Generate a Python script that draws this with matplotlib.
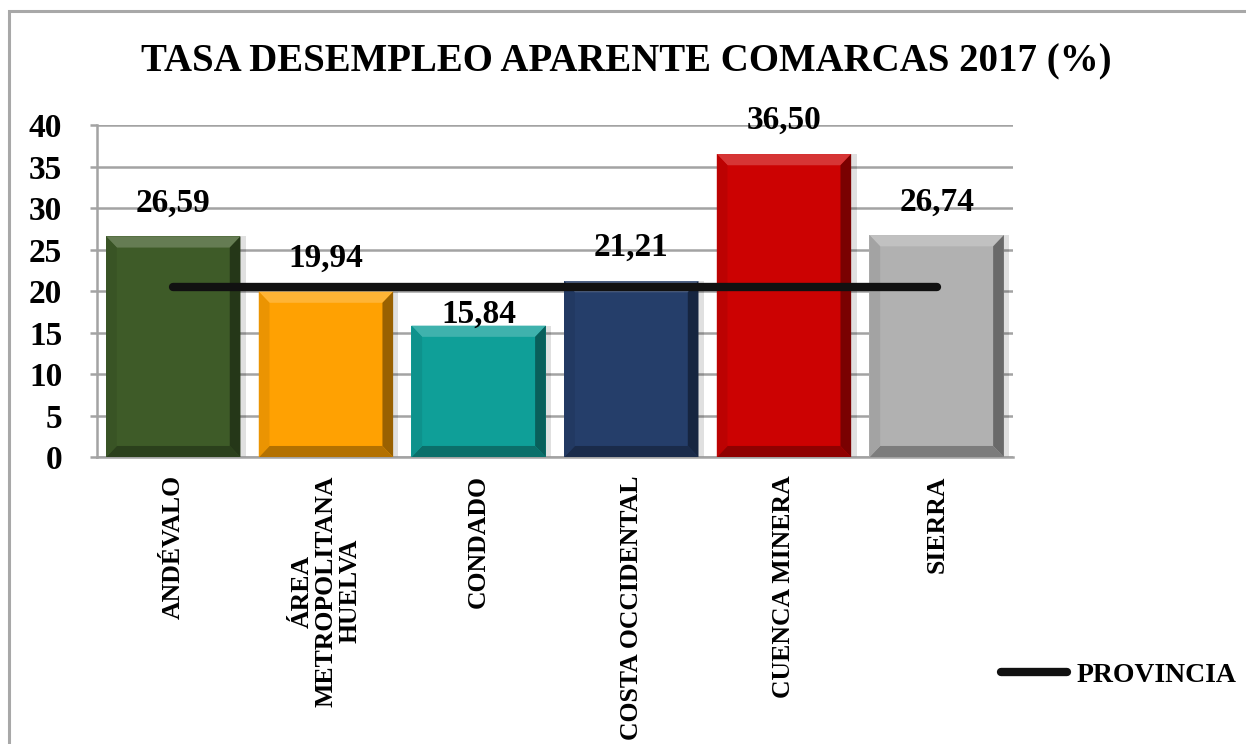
import matplotlib
matplotlib.use("Agg")
import matplotlib.pyplot as plt
from matplotlib.patches import Polygon, Rectangle
from matplotlib.colors import to_rgb
import numpy as np

# datos
comarcas = ["ANDÉVALO", "ÁREA\nMETROPOLITANA\nHUELVA", "CONDADO",
            "COSTA OCCIDENTAL", "CUENCA MINERA", "SIERRA"]
tasas = [26.59, 19.94, 15.84, 21.21, 36.50, 26.74]
provincia = [20.46, 20.46, 20.46, 20.46, 20.46, 20.46]
colores = ["#3e5b28", "#ffa102", "#0f9f98", "#253e6a", "#cc0202", "#b1b1b1"]
# desplazamiento vertical de las etiquetas (puntos)
desp_etiq = [24, 24, 8, 24, 24, 24]

plt.rcParams['font.family'] = ['Liberation Serif', 'DejaVu Serif']
plt.rcParams['font.weight'] = 'bold'

def mezcla(c, otro, t):
    c = np.array(to_rgb(c))
    return tuple(c * (1 - t) + np.array(otro) * t)

fig = plt.figure(figsize=(12.46, 7.44), dpi=100)
fig.patches.append(Rectangle((0.007, -0.2), 1.2, 0.985 + 0.2, transform=fig.transFigure,
                             fill=False, edgecolor="#a8a8a8", lw=2.2))

ax = fig.add_axes([0.0778, 0.3855, 0.7352, 0.4465])
x = np.arange(len(comarcas))
ancho = 0.88

# sombra
ax.bar(x + 0.035, tasas, width=ancho, color="#000000", alpha=0.12, zorder=2)
barras = ax.bar(x, tasas, width=ancho, color=colores, zorder=3)

# bisel
bx, by = 0.07, 1.35
for b, c in zip(barras, colores):
    x0, x1, h = b.get_x(), b.get_x() + b.get_width(), b.get_height()
    caras = [
        ([(x0, h), (x1, h), (x1 - bx, h - by), (x0 + bx, h - by)], mezcla(c, (1, 1, 1), 0.2)),
        ([(x1, h), (x1, 0), (x1 - bx, by), (x1 - bx, h - by)], mezcla(c, (0, 0, 0), 0.4)),
        ([(x0, 0), (x1, 0), (x1 - bx, by), (x0 + bx, by)], mezcla(c, (0, 0, 0), 0.3)),
        ([(x0, h), (x0, 0), (x0 + bx, by), (x0 + bx, h - by)], mezcla(c, (0, 0, 0), 0.08)),
    ]
    for pts, col in caras:
        ax.add_patch(Polygon(pts, closed=True, facecolor=col, edgecolor="none", zorder=4))

ax.plot(x, provincia, color="#111111", lw=6, solid_capstyle="round", zorder=6, label="PROVINCIA")

for xi, v, d in zip(x, tasas, desp_etiq):
    ax.annotate(f"{v:.2f}".replace(".", ","), (xi, v), xytext=(0, d), textcoords="offset points",
                ha="center", va="center", fontsize=24, fontweight="bold", zorder=7)

ax.set_xlim(-0.5, len(comarcas) - 0.5)
ax.set_ylim(0, 40)
ax.set_yticks(np.arange(0, 41, 5))
ax.yaxis.grid(True, color="#a3a3a3", lw=1.8, zorder=0)
ax.set_axisbelow(True)
for s in ["top", "right"]:
    ax.spines[s].set_visible(False)
for s in ["left", "bottom"]:
    ax.spines[s].set_color("#a3a3a3")
    ax.spines[s].set_linewidth(1.8)
ax.tick_params(axis="y", length=5, color="#a3a3a3", width=1.8, pad=20, labelsize=24)
ax.tick_params(axis="x", length=0, pad=13)
ax.set_xticks(x)
ax.set_xticklabels(comarcas, rotation=90, fontsize=18.5, fontweight="bold",
                   ha="center", va="top", multialignment="center", linespacing=1.05)

fig.text(0.5025, 0.917, "TASA DESEMPLEO APARENTE COMARCAS 2017 (%)", ha="center", va="center",
         fontsize=28, fontweight="bold")

fig.legend(loc="center left", bbox_to_anchor=(0.803, 0.093), frameon=False, fontsize=20,
           handlelength=2.4, handletextpad=0.35, borderpad=0, borderaxespad=0)

fig.savefig("out.png", dpi=100)
